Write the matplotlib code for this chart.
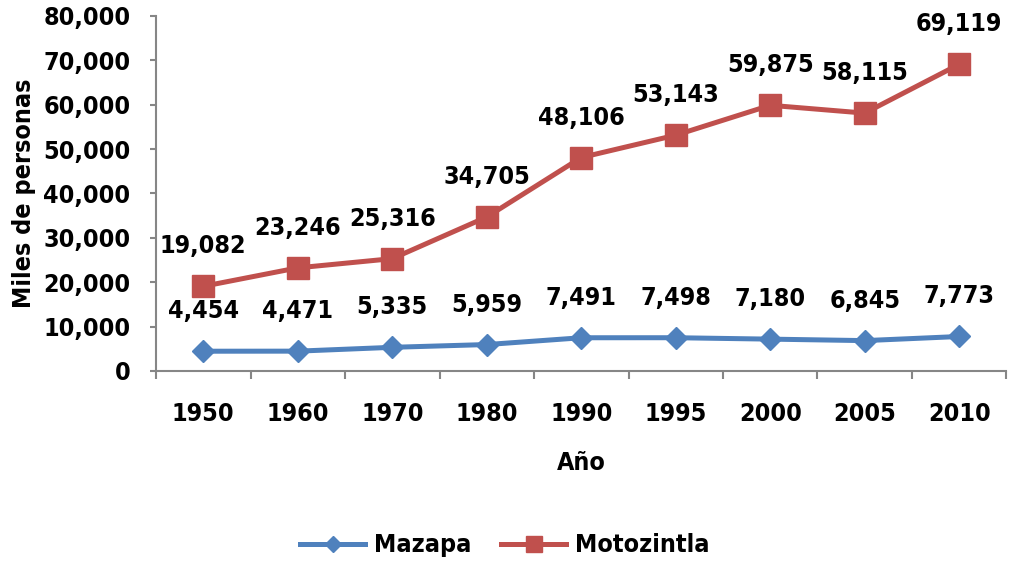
import matplotlib.pyplot as plt
from matplotlib import font_manager

years = ['1950', '1960', '1970', '1980', '1990', '1995', '2000', '2005', '2010']
mazapa = [4454, 4471, 5335, 5959, 7491, 7498, 7180, 6845, 7773]
motozintla = [19082, 23246, 25316, 34705, 48106, 53143, 59875, 58115, 69119]

# look for a narrow bold face (the original uses Arial Narrow)
fam = 'DejaVu Sans'
for key in ['LiberationSansNarrow-Bold', 'DejaVuSansCondensed-Bold']:
    hits = [f for f in font_manager.fontManager.ttflist if key in f.fname]
    if hits:
        fam = hits[0].name
        plt.rcParams['font.stretch'] = hits[0].stretch
        break
plt.rcParams['font.family'] = [fam, 'DejaVu Sans']
plt.rcParams['font.weight'] = 'bold'

blue = '#4F81BD'
red = '#C0504D'
grey = '#868686'

fig = plt.figure(figsize=(10.1, 5.61), dpi=100)
ax = fig.add_axes([0.1545, 0.3387, 0.842, 0.6328])

x = list(range(len(years)))
ax.plot(x, mazapa, color=blue, lw=3.6, marker='D', ms=11, label='Mazapa')
ax.plot(x, motozintla, color=red, lw=3.6, marker='s', ms=16, label='Motozintla')

for xi, v in zip(x, mazapa):
    ax.annotate(f'{v:,}', (xi, v), xytext=(0, 28), textcoords='offset pixels',
                ha='center', va='bottom', fontsize=18, fontweight='bold')
for xi, v in zip(x, motozintla):
    ax.annotate(f'{v:,}', (xi, v), xytext=(0, 28), textcoords='offset pixels',
                ha='center', va='bottom', fontsize=18, fontweight='bold')

ax.set_xlim(-0.5, len(years) - 0.5)
ax.set_ylim(0, 80000)
ax.set_yticks(range(0, 80001, 10000))
ax.set_yticklabels([f'{v:,}' for v in range(0, 80001, 10000)], fontsize=18, fontweight='bold')
ax.set_xticks(x)
ax.set_xticklabels(years, fontsize=18, fontweight='bold')
ax.set_xticks([i - 0.5 for i in range(len(years) + 1)], minor=True)
ax.tick_params(axis='x', which='major', length=0, pad=22)
ax.tick_params(axis='x', which='minor', length=6, width=1.5, color=grey)
ax.tick_params(axis='y', length=4.5, width=1.5, color=grey, pad=14)

for s in ['top', 'right']:
    ax.spines[s].set_visible(False)
for s in ['left', 'bottom']:
    ax.spines[s].set_color(grey)
    ax.spines[s].set_linewidth(1.5)

ax.set_ylabel('Miles de personas', fontsize=18, fontweight='bold', labelpad=5)
ax.set_xlabel('Año', fontsize=18, fontweight='bold', labelpad=18)

fig.legend(loc='center', bbox_to_anchor=(0.5, 0.028), ncol=2, frameon=False,
           prop={'size': 18, 'weight': 'bold'}, handlelength=2.6,
           handletextpad=0.35, columnspacing=1.2, markerscale=0.75)

fig.savefig('out.png', dpi=100)
